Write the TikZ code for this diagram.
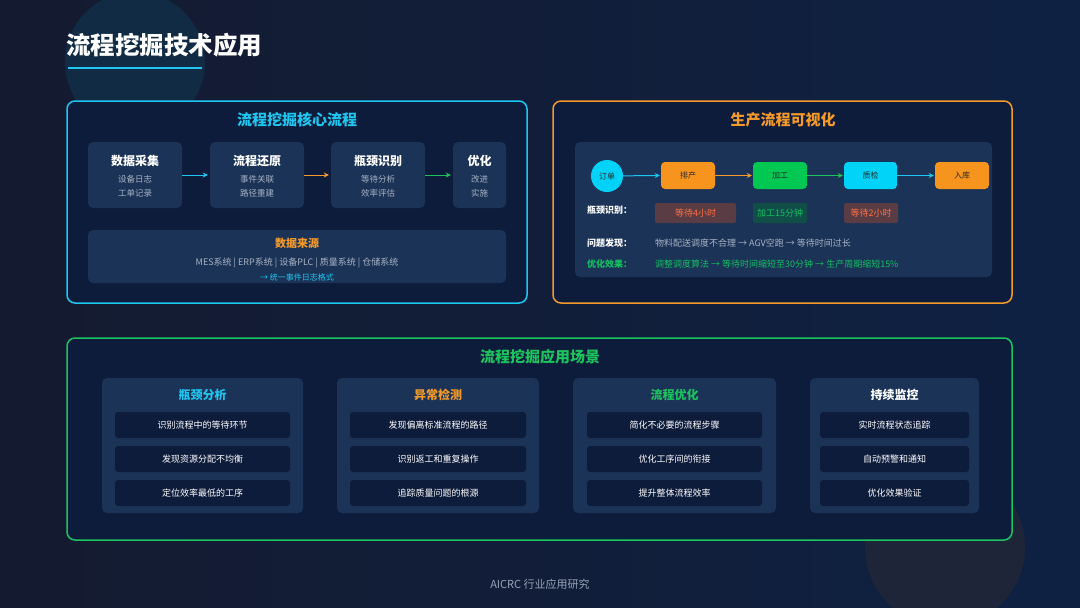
\documentclass[tikz,border=0pt]{standalone}
\usepackage{fontspec}
\setmainfont{Noto Sans CJK SC}
\usetikzlibrary{arrows.meta}
\definecolor{bgA}{HTML}{141B30}
\definecolor{bgB}{HTML}{0F2143}
\definecolor{panelfill}{HTML}{0E1C3C}
\definecolor{cardfill}{HTML}{1B3357}
\definecolor{itemfill}{HTML}{0E1C3B}
\definecolor{ccyan}{HTML}{1EC6F0}
\definecolor{corange}{HTML}{F39A2A}
\definecolor{cgreen}{HTML}{1BC45C}
\definecolor{subgray}{HTML}{A9B3C4}
\definecolor{nodecyan}{HTML}{00D2F8}
\definecolor{nodeorange}{HTML}{F7941D}
\definecolor{nodegreen}{HTML}{00C853}
\definecolor{redtxt}{HTML}{FF7043}
\definecolor{redbox}{HTML}{5A3D44}
\definecolor{grnbox}{HTML}{124E48}
\definecolor{grntxt}{HTML}{14C062}
\definecolor{circA}{HTML}{112B45}
\definecolor{circB}{HTML}{1F2539}
\definecolor{foot}{HTML}{98A2B5}
\definecolor{darktxt}{HTML}{2A2A2A}
\newcommand{\fsz}[1]{\fontsize{#1}{#1}\selectfont}
\begin{document}
\begin{tikzpicture}[x=1pt,y=-1pt,
  panel/.style={draw, line width=1.5pt, rounded corners=8pt, fill=panelfill, inner sep=0},
  stage/.style={fill=cardfill, rounded corners=5pt, inner sep=0},
  txt/.style={inner sep=0, text=white},
  arr/.style={-{Stealth[length=5pt,width=5pt]}, line width=1pt},
  flow/.style={rounded corners=4pt, minimum height=27pt, inner sep=0, font=\fsz{8}, text=darktxt},
  tag/.style={rounded corners=2pt, minimum height=20pt, inner sep=0, font=\fsz{9}},
  item/.style={fill=itemfill, rounded corners=3pt, minimum height=26pt, inner sep=0, font=\fsz{9}, text=white},
  lbl/.style={inner sep=0, anchor=west, font=\bfseries\fsz{9}}
]
\useasboundingbox (0,0) rectangle (1080,608);
\fill[left color=bgA, right color=bgB] (0,0) rectangle (1080,608);
\fill[circA] (135,62) circle (70pt);
\fill[circB] (945,547) circle (80pt);

% title
\node[txt, anchor=west, font=\bfseries\fsz{24.5}] (title) at (66,45) {流程挖掘技术应用};
\draw[ccyan, line width=2pt] (68,68) -- (202,68);

% ---------- panel 1
\node[panel, draw=ccyan, minimum width=460pt, minimum height=202pt] (p1) at (297,202) {};
\node[txt, text=ccyan, font=\bfseries\fsz{15}] (p1t) at (297,120) {流程挖掘核心流程};
\node[stage, minimum width=94pt, minimum height=66pt] (b1) at (135,175) {};
\node[stage, minimum width=94pt, minimum height=66pt] (b2) at (257,175) {};
\node[stage, minimum width=94pt, minimum height=66pt] (b3) at (378,175) {};
\node[stage, minimum width=53pt, minimum height=66pt] (b4) at (479.5,175) {};
\foreach \n/\x/\t/\a/\b in {1/135/数据采集/设备日志/工单记录, 2/257/流程还原/事件关联/路径重建, 3/378/瓶颈识别/等待分析/效率评估, 4/479.5/优化/改进/实施}{
  \node[txt, font=\bfseries\fsz{12}] (b\n t) at (\x,161) {\t};
  \node[txt, text=subgray, font=\fsz{8.5}] (b\n a) at (\x,179) {\a};
  \node[txt, text=subgray, font=\fsz{8.5}] (b\n b) at (\x,193) {\b};
}
\draw[arr, ccyan] (b1.east) -- ([xshift=-2pt]b2.west);
\draw[arr, corange] (b2.east) -- ([xshift=-2pt]b3.west);
\draw[arr, cgreen] (b3.east) -- ([xshift=-2pt]b4.west);
\node[stage, minimum width=418pt, minimum height=53pt] (ds) at (297,256.5) {};
\node[txt, text=corange, font=\bfseries\fsz{11}] (dst) at (297,243) {数据来源};
\node[txt, text=subgray, font=\fsz{9}] (dsa) at (297,263) {MES系统 | ERP系统 | 设备PLC | 质量系统 | 仓储系统};
\node[txt, text=ccyan, font=\fsz{8}] (dsb) at (297,277.5) {→ 统一事件日志格式};

% ---------- panel 2
\node[panel, draw=corange, minimum width=459pt, minimum height=202pt] (p2) at (782.5,202) {};
\node[txt, text=corange, font=\bfseries\fsz{15}] (p2t) at (783,120) {生产流程可视化};
\node[stage, minimum width=417pt, minimum height=135pt] (in2) at (783.5,209.5) {};
\node[circle, fill=nodecyan, minimum size=32pt, inner sep=0, font=\fsz{8}, text=darktxt] (o1) at (607,176) {订单};
\node[flow, fill=nodeorange, minimum width=54pt] (o2) at (688,175.5) {排产};
\node[flow, fill=nodegreen, minimum width=54pt] (o3) at (780,175.5) {加工};
\node[flow, fill=nodecyan, minimum width=53pt] (o4) at (870.5,175.5) {质检};
\node[flow, fill=nodeorange, minimum width=54pt] (o5) at (962,175.5) {入库};
\draw[arr, ccyan] (o1) -- ([xshift=-1pt]o2.west);
\draw[arr, corange] (o2) -- ([xshift=-1pt]o3.west);
\draw[arr, cgreen] (o3) -- ([xshift=-1pt]o4.west);
\draw[arr, ccyan] (o4) -- ([xshift=-1pt]o5.west);
\node[lbl, text=white] (l1) at (587,210) {瓶颈识别：};
\node[tag, fill=redbox, text=redtxt, minimum width=81pt] (t1) at (695.5,213) {等待4小时};
\node[tag, fill=grnbox, text=grntxt, minimum width=54pt] (t2) at (780,213) {加工15分钟};
\node[tag, fill=redbox, text=redtxt, minimum width=54pt] (t3) at (871,213) {等待2小时};
\node[lbl, text=white] (l2) at (587,243) {问题发现：};
\node[txt, anchor=west, text=subgray, font=\fsz{9}] (l2t) at (655,243) {物料配送调度不合理 → AGV空跑 → 等待时间过长};
\node[lbl, text=grntxt] (l3) at (587,264) {优化效果：};
\node[txt, anchor=west, text=grntxt, font=\fsz{9}] (l3t) at (655,264) {调整调度算法 → 等待时间缩短至30分钟 → 生产周期缩短15\%};

% ---------- panel 3
\node[panel, draw=cgreen, minimum width=945pt, minimum height=202pt] (p3) at (539.5,439) {};
\node[txt, text=cgreen, font=\bfseries\fsz{15}] (p3t) at (540,357) {流程挖掘应用场景};
\foreach \n/\x/\w/\iw/\col/\t/\a/\b/\c in {
  1/202.5/201/175/ccyan/瓶颈分析/识别流程中的等待环节/发现资源分配不均衡/定位效率最低的工序,
  2/438/202/176/corange/异常检测/发现偏离标准流程的路径/识别返工和重复操作/追踪质量问题的根源,
  3/674.5/203/175/cgreen/流程优化/简化不必要的流程步骤/优化工序间的衔接/提升整体流程效率,
  4/894.5/169/149/white/持续监控/实时流程状态追踪/自动预警和通知/优化效果验证}{
  \node[stage, minimum width=\w pt, minimum height=135pt] (c\n) at (\x,445.5) {};
  \node[txt, text=\col, font=\bfseries\fsz{12}] (c\n t) at (\x,395) {\t};
  \node[item, minimum width=\iw pt] (c\n a) at (\x,425) {\a};
  \node[item, minimum width=\iw pt] (c\n b) at (\x,459) {\b};
  \node[item, minimum width=\iw pt] (c\n c) at (\x,493) {\c};
}

% footer
\node[txt, text=foot, font=\fsz{11}] (foot) at (540,584) {AICRC 行业应用研究};
\end{tikzpicture}
\end{document}
